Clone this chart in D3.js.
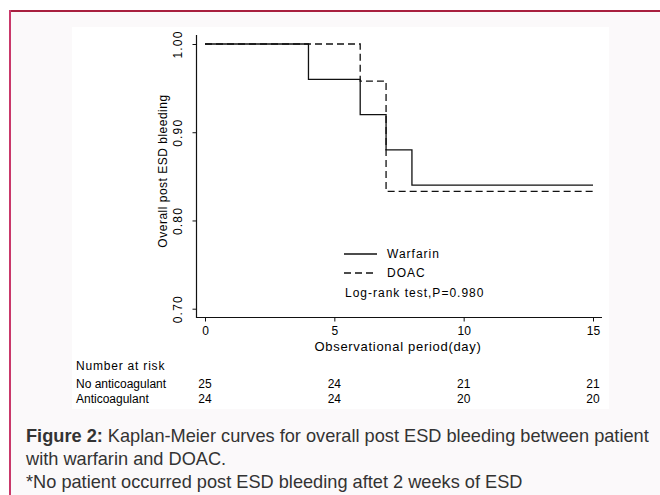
<!DOCTYPE html>
<html>
<head>
<meta charset="utf-8">
<script src="https://cdn.jsdelivr.net/npm/d3@7"></script>
<style>
  body { margin: 0; background: #fff; }
  svg { display: block; font-family: 'Liberation Sans', Arial, sans-serif; }
</style>
</head>
<body>
<svg width="660" height="495"></svg>
<script>
// survival steps
const warfarinTime = [0, 4, 6, 7, 8, 15]
const warfarinSurv = [1.0, 0.96, 0.92, 0.88, 0.84, 0.84]
const doacTime = [0, 6, 7, 15]
const doacSurv = [1.0, 0.958, 0.833, 0.833]

const xTicks = [0, 5, 10, 15]
const yTicks = [0.70, 0.80, 0.90, 1.00]

const riskRows = ['No anticoagulant', 'Anticoagulant']
const riskNoAnti = [25, 24, 21, 21]
const riskAnti = [24, 24, 20, 20]

const legendLabels = ['Warfarin', 'DOAC']

const svg = d3.select('svg')

// outer frame
svg.append('rect').attr('x', 9).attr('y', 10).attr('width', 660).attr('height', 500)
  .attr('fill', '#fbf9fa')
svg.append('line').attr('x1', 9).attr('x2', 660).attr('y1', 11).attr('y2', 11)
  .attr('stroke', '#a8203f').attr('stroke-width', 2)
svg.append('line').attr('x1', 10).attr('x2', 10).attr('y1', 10).attr('y2', 495)
  .attr('stroke', '#c9386a').attr('stroke-width', 2)

// white figure panel
svg.append('rect').attr('x', 72).attr('y', 27).attr('width', 537).attr('height', 382)
  .attr('fill', '#fff')

const x = d3.scaleLinear().domain([0, 15]).range([205, 593])
const y = d3.scaleLinear().domain([0.7, 1.0]).range([308.7, 44])

const ink = '#111'

// axis lines
svg.append('line').attr('x1', 196.5).attr('x2', 196.5).attr('y1', 35).attr('y2', 318)
  .attr('stroke', ink).attr('stroke-width', 1.2)
svg.append('line').attr('x1', 196).attr('x2', 602).attr('y1', 317.5).attr('y2', 317.5)
  .attr('stroke', ink).attr('stroke-width', 1.2)

const yAxis = svg.append('g')
  .attr('transform', 'translate(196.5,0)')
  .call(d3.axisLeft(y).tickValues(yTicks).tickFormat(d3.format('.2f')).tickSize(4))
yAxis.select('.domain').remove()
yAxis.selectAll('line').attr('stroke', ink)
yAxis.selectAll('text')
  .attr('x', 0).attr('dy', 0)
  .attr('transform', 'translate(-15,0) rotate(-90)')
  .style('text-anchor', 'middle')
  .style('letter-spacing', '1.2px')
  .attr('font-size', 12)
  .attr('font-family', 'Liberation Sans, Arial, sans-serif')
  .attr('fill', '#000')

const xAxis = svg.append('g')
  .attr('transform', 'translate(0,317.5)')
  .call(d3.axisBottom(x).tickValues(xTicks).tickSize(4).tickPadding(5))
xAxis.select('.domain').remove()
xAxis.selectAll('line').attr('stroke', ink)
xAxis.selectAll('text')
  .attr('font-size', 12)
  .attr('font-family', 'Liberation Sans, Arial, sans-serif')
  .attr('fill', '#000')

svg.append('text')
  .attr('x', 398).attr('y', 351)
  .attr('text-anchor', 'middle')
  .attr('font-size', 13)
  .style('letter-spacing', '0.7px')
  .text('Observational period(day)')

svg.append('text')
  .attr('transform', 'translate(167,171) rotate(-90)')
  .attr('text-anchor', 'middle')
  .attr('font-size', 12)
  .style('letter-spacing', '0.5px')
  .text('Overall post ESD bleeding')

// survival curves
const step = d3.line()
  .x((d) => x(d[0]))
  .y((d) => y(d[1]))
  .curve(d3.curveStepAfter)

svg.append('path')
  .datum(doacTime.map((t, i) => [t, doacSurv[i]]))
  .attr('d', step)
  .attr('fill', 'none')
  .attr('stroke', ink)
  .attr('stroke-width', 1.3)
  .attr('stroke-dasharray', '7,4')

svg.append('path')
  .datum(warfarinTime.map((t, i) => [t, warfarinSurv[i]]))
  .attr('d', step)
  .attr('fill', 'none')
  .attr('stroke', ink)
  .attr('stroke-width', 1.3)

// legend
const legend = svg.append('g').attr('font-size', 12).style('letter-spacing', '1px')
legendLabels.forEach((lab, i) => {
  const ly = 254 + i * 19
  legend.append('line')
    .attr('x1', 344).attr('x2', 377).attr('y1', ly).attr('y2', ly)
    .attr('stroke', ink).attr('stroke-width', 1.3)
    .attr('stroke-dasharray', i === 1 ? '7,4' : null)
  legend.append('text').attr('x', 387).attr('y', ly + 4).text(lab)
})
legend.append('text').attr('x', 345).attr('y', 297).text('Log-rank test,P=0.980')

// number at risk table
const risk = svg.append('g').attr('font-size', 12)
risk.append('text').attr('x', 76).attr('y', 370).style('letter-spacing', '0.8px').text('Number at risk')
;[riskNoAnti, riskAnti].forEach((row, r) => {
  const ry = 388 + r * 15
  risk.append('text').attr('x', 76).attr('y', ry).text(riskRows[r])
  risk.selectAll(null)
    .data(row)
    .enter().append('text')
    .attr('x', (d, i) => x(xTicks[i]))
    .attr('y', ry)
    .attr('text-anchor', 'middle')
    .text((d) => d)
})

// caption
const cap = svg.append('g').attr('font-size', 18.2).attr('fill', '#333')
const c1 = cap.append('text').attr('x', 26).attr('y', 442)
c1.append('tspan').attr('font-weight', 'bold').text('Figure 2:')
c1.append('tspan').text(' Kaplan-Meier curves for overall post ESD bleeding between patient')
cap.append('text').attr('x', 26).attr('y', 465).text('with warfarin and DOAC.')
cap.append('text').attr('x', 26).attr('y', 488).text('*No patient occurred post ESD bleeding aftet 2 weeks of ESD')
</script>
</body>
</html>
